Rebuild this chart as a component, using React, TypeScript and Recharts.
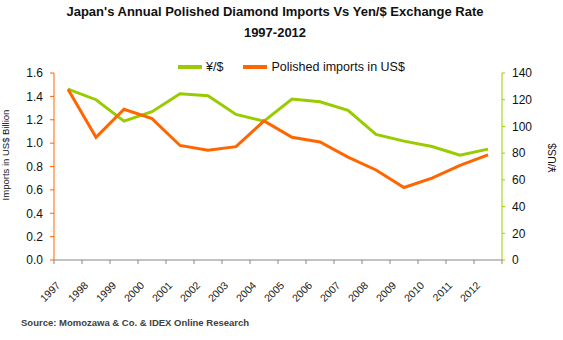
import { LineChart, Line, XAxis, YAxis, Legend } from 'recharts';

const years = ['1997', '1998', '1999', '2000', '2001', '2002', '2003', '2004', '2005', '2006', '2007', '2008', '2009', '2010', '2011', '2012'];
const importsUsdBn = [1.46, 1.05, 1.29, 1.21, 0.98, 0.94, 0.97, 1.19, 1.05, 1.01, 0.88, 0.77, 0.62, 0.7, 0.81, 0.9];
const yenPerUsd = [128, 120, 104, 111, 124.5, 123, 109, 104, 120.5, 118.5, 112, 94, 89, 85, 78.5, 83];
const leftTicks = [0, 0.2, 0.4, 0.6, 0.8, 1.0, 1.2, 1.4, 1.6];
const rightTicks = [0, 20, 40, 60, 80, 100, 120, 140];
const seriesNames = ['¥/$', 'Polished imports in US$'];

const data = years.map((year, i) => ({ year, imports: importsUsdBn[i], yen: yenPerUsd[i] }));

const FONT = '"Liberation Sans", Arial, sans-serif';
const ORANGE = '#FF6600';
const GREEN = '#99CC00';
const AXIS_GREY = '#868686';
const HALF_BAND = 14;

function YearTick({ x, y, payload, index }: any) {
  const tx = x - 7;
  const ty = y + 26;
  return (
    <g>
      <line x1={x - HALF_BAND} x2={x - HALF_BAND} y1={y} y2={y + 4} stroke={AXIS_GREY} />
      {index === years.length - 1 && (
        <line x1={x + HALF_BAND} x2={x + HALF_BAND} y1={y} y2={y + 4} stroke={AXIS_GREY} />
      )}
      <text x={tx} y={ty} textAnchor="end" transform={`rotate(-45 ${tx} ${ty})`} fontSize={10.5} fill="#222" fontFamily={FONT}>
        {payload.value}
      </text>
    </g>
  );
}

function LegendContent({ payload }: any) {
  const items = [...(payload || [])].sort((a: any, b: any) => seriesNames.indexOf(a.value) - seriesNames.indexOf(b.value));
  return (
    <div style={{ display: 'flex', justifyContent: 'center', alignItems: 'center', fontFamily: FONT, fontSize: 12.5, color: '#111' }}>
      {items.map((item: any, i: number) => (
        <div key={item.value} style={{ display: 'flex', alignItems: 'center', marginLeft: i === 0 ? 0 : 20 }}>
          <span style={{ display: 'inline-block', width: 24, height: 4, background: item.color, marginRight: 4 }} />
          <span>{item.value}</span>
        </div>
      ))}
    </div>
  );
}

export default function App() {
  return (
    <div style={{ position: 'absolute', left: 0, top: 0, width: 563, height: 340, background: '#fff' }}>
      <LineChart width={563} height={340} data={data} margin={{ top: 73, right: 0, bottom: 0, left: 0 }}>
        <XAxis
          dataKey="year"
          scale="band"
          height={80}
          axisLine={{ stroke: AXIS_GREY }}
          tickLine={false}
          tickSize={0}
          tickMargin={0}
          interval={0}
          tick={<YearTick />}
        />
        <YAxis
          yAxisId="left"
          width={54}
          domain={[0, 1.6]}
          ticks={leftTicks}
          tickFormatter={(v) => Number(v).toFixed(1)}
          axisLine={{ stroke: ORANGE }}
          tickLine={{ stroke: ORANGE }}
          tickSize={4}
          tickMargin={7}
          tick={{ fontSize: 12, fill: '#111', fontFamily: FONT }}
        />
        <YAxis
          yAxisId="right"
          orientation="right"
          width={61}
          domain={[0, 140]}
          ticks={rightTicks}
          axisLine={{ stroke: GREEN }}
          tickLine={{ stroke: GREEN }}
          tickSize={3}
          tickMargin={7}
          tick={{ fontSize: 12, fill: '#111', fontFamily: FONT, textAnchor: 'start' }}
        />
        <Legend
          layout="horizontal"
          verticalAlign="middle"
          wrapperStyle={{ top: 60, left: 10, width: 563 }}
          content={<LegendContent />}
        />
        <Line yAxisId="right" dataKey="yen" name="¥/$" stroke={GREEN} strokeWidth={3} dot={false} isAnimationActive={false} />
        <Line yAxisId="left" dataKey="imports" name="Polished imports in US$" stroke={ORANGE} strokeWidth={3} dot={false} isAnimationActive={false} />
      </LineChart>
      <svg width={563} height={340} style={{ position: 'absolute', left: 0, top: 0, pointerEvents: 'none' }}>
        <g fontFamily={FONT} fontWeight="bold" fontSize={13} fill="#111" textAnchor="middle">
          <text x={275} y={16}>Japan's Annual Polished Diamond Imports Vs Yen/$ Exchange Rate</text>
          <text x={275} y={37}>1997-2012</text>
        </g>
        <text x={9} y={155} transform="rotate(-90 9 155)" textAnchor="middle" fontFamily={FONT} fontSize={9.5} fill="#111">
          Imports in US$ Billion
        </text>
        <text x={556} y={158} transform="rotate(-90 556 158)" textAnchor="middle" fontFamily={FONT} fontSize={10.5} fill="#111">
          ¥/US$
        </text>
        <text x={21} y={326} fontFamily={FONT} fontWeight="bold" fontSize={9.5} fill="#404040">
          Source: Momozawa &amp; Co. &amp; IDEX Online Research
        </text>
      </svg>
    </div>
  );
}
